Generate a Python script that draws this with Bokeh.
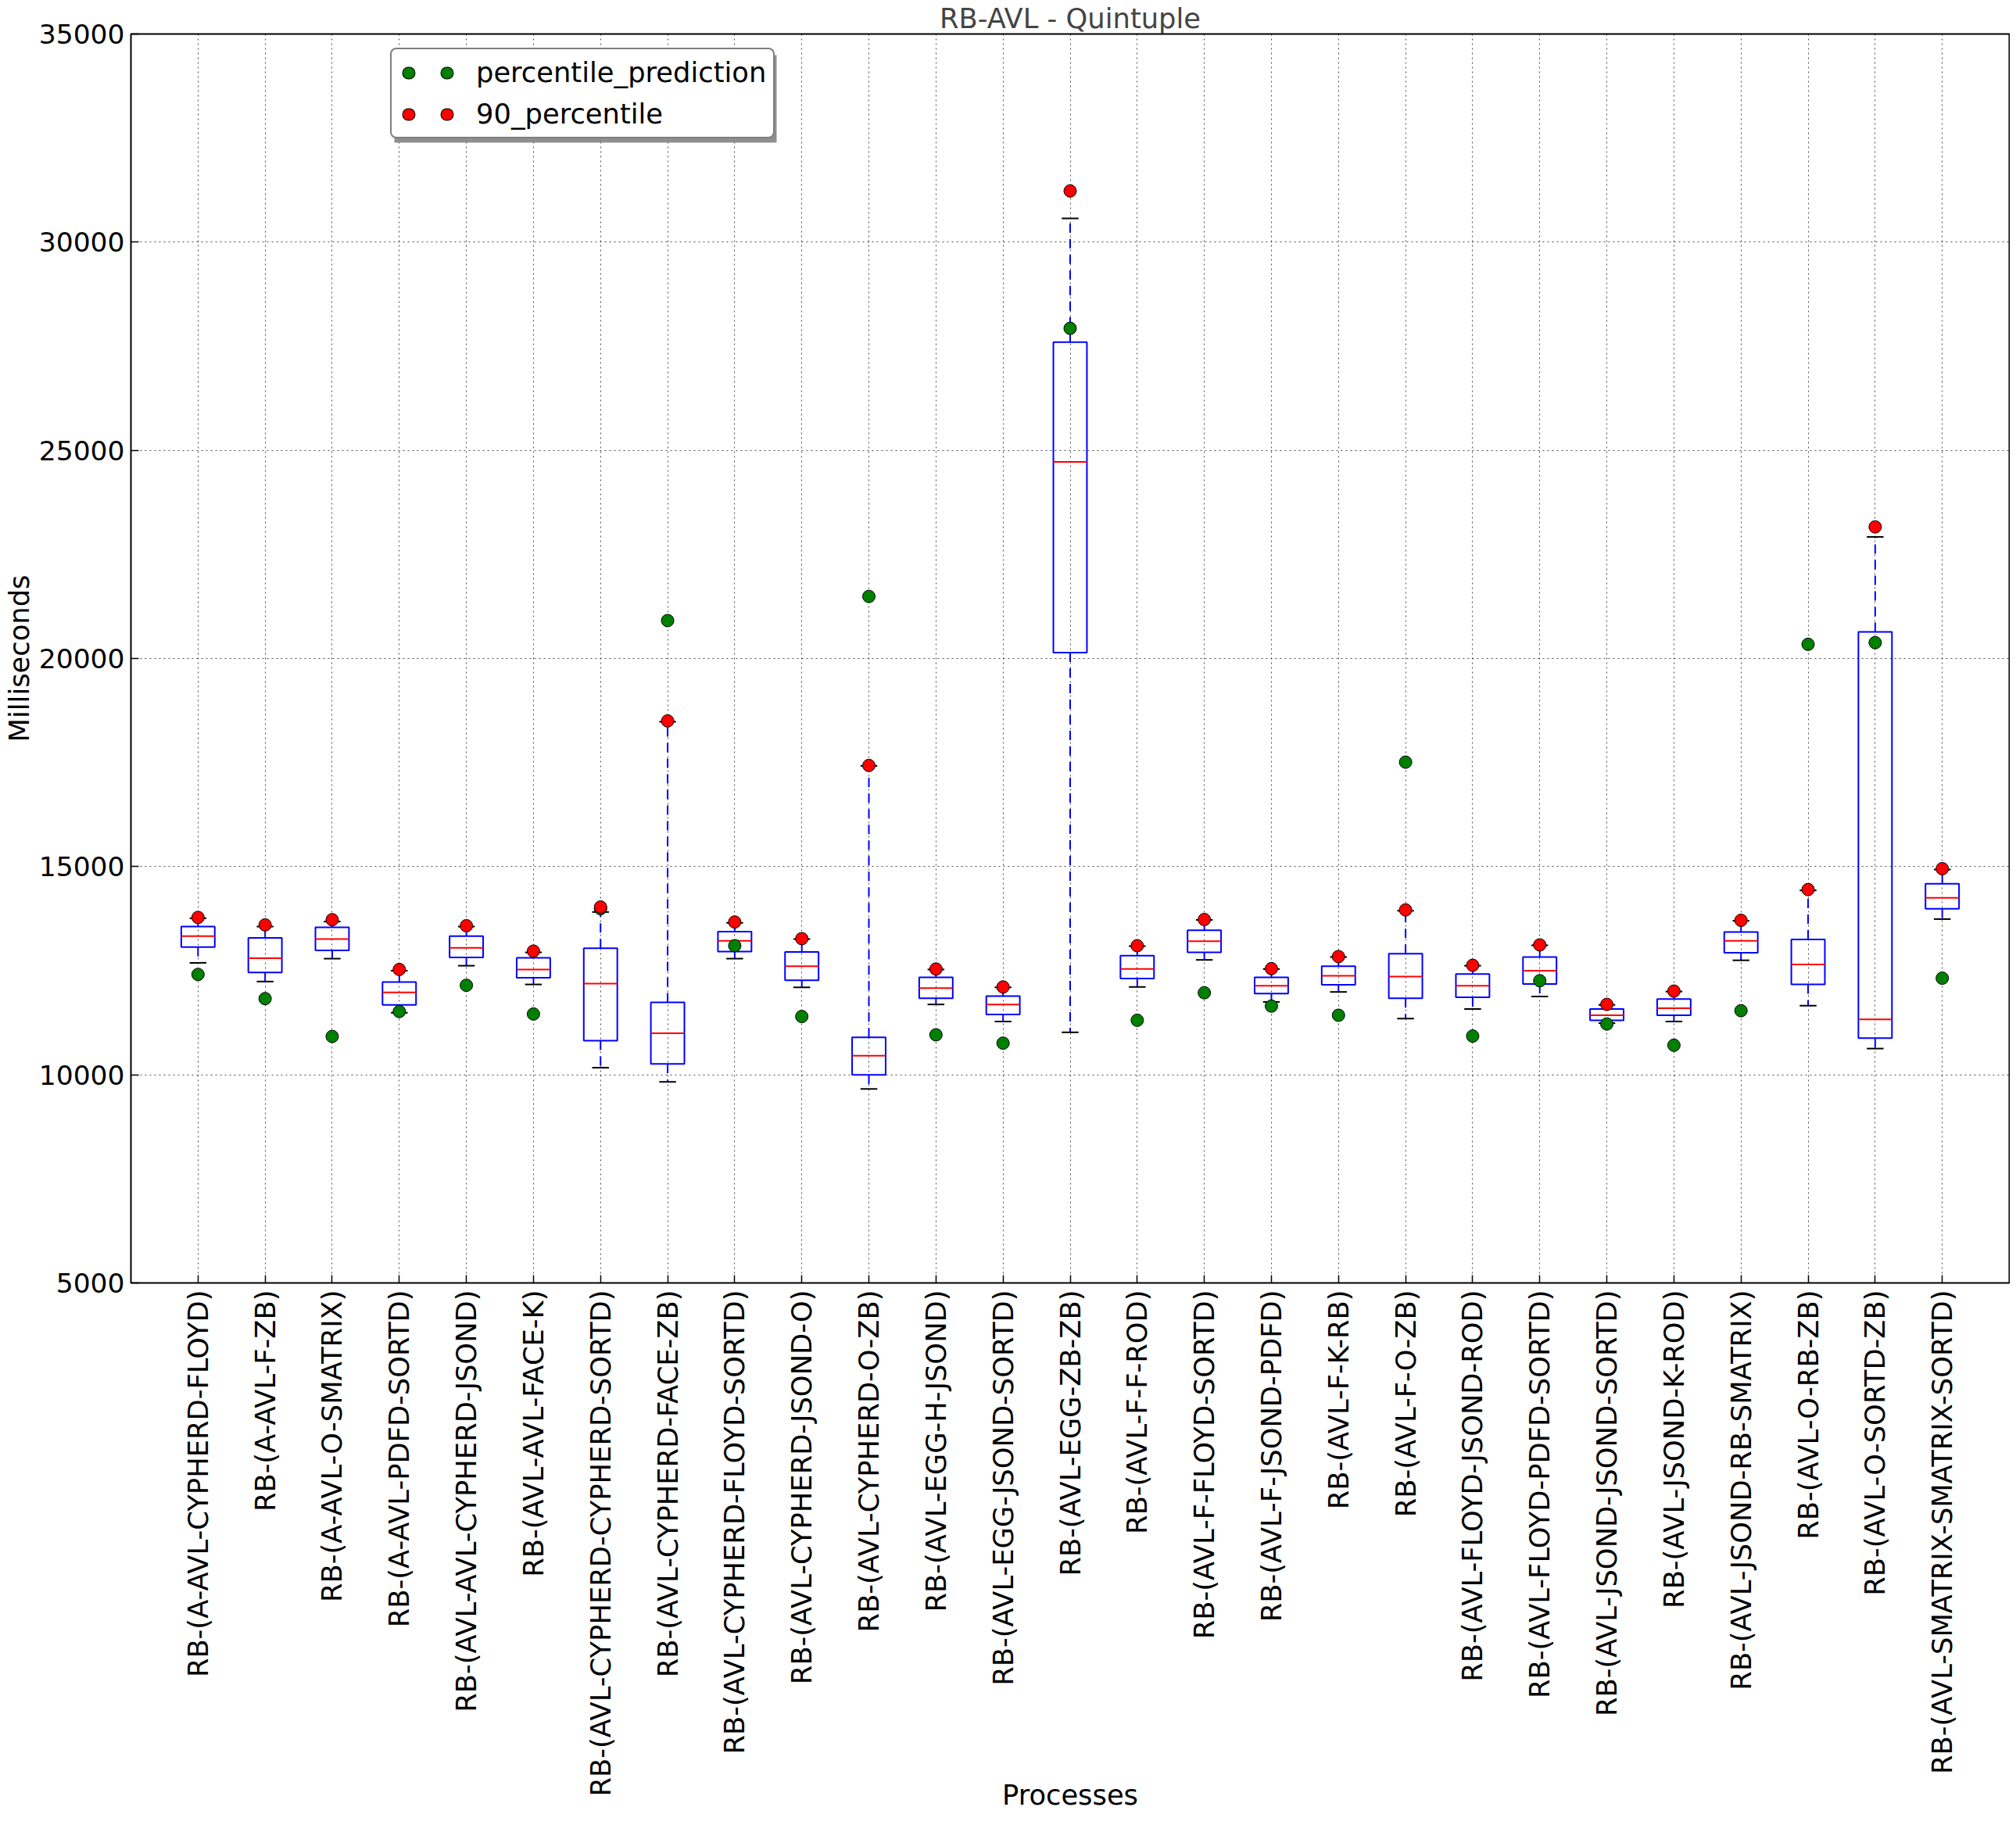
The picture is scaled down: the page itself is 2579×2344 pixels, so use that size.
from bokeh.plotting import figure
from bokeh.models import ColumnDataSource, FixedTicker, Legend, LegendItem, Range1d, BoxAnnotation
from bokeh.embed import file_html
from bokeh.resources import INLINE
import math

# ---------------- data ----------------
names = [
    "RB-(A-AVL-CYPHERD-FLOYD)",
    "RB-(A-AVL-F-ZB)",
    "RB-(A-AVL-O-SMATRIX)",
    "RB-(A-AVL-PDFD-SORTD)",
    "RB-(AVL-AVL-CYPHERD-JSOND)",
    "RB-(AVL-AVL-FACE-K)",
    "RB-(AVL-CYPHERD-CYPHERD-SORTD)",
    "RB-(AVL-CYPHERD-FACE-ZB)",
    "RB-(AVL-CYPHERD-FLOYD-SORTD)",
    "RB-(AVL-CYPHERD-JSOND-O)",
    "RB-(AVL-CYPHERD-O-ZB)",
    "RB-(AVL-EGG-H-JSOND)",
    "RB-(AVL-EGG-JSOND-SORTD)",
    "RB-(AVL-EGG-ZB-ZB)",
    "RB-(AVL-F-F-ROD)",
    "RB-(AVL-F-FLOYD-SORTD)",
    "RB-(AVL-F-JSOND-PDFD)",
    "RB-(AVL-F-K-RB)",
    "RB-(AVL-F-O-ZB)",
    "RB-(AVL-FLOYD-JSOND-ROD)",
    "RB-(AVL-FLOYD-PDFD-SORTD)",
    "RB-(AVL-JSOND-JSOND-SORTD)",
    "RB-(AVL-JSOND-K-ROD)",
    "RB-(AVL-JSOND-RB-SMATRIX)",
    "RB-(AVL-O-RB-ZB)",
    "RB-(AVL-O-SORTD-ZB)",
    "RB-(AVL-SMATRIX-SMATRIX-SORTD)",
]

whisker_low = [12690, 12240, 12790, 11490, 12620, 12170, 10170, 9830, 12790, 12100,
               9660, 11690, 11280, 11020, 12110, 12760, 11750, 11990, 11350, 11580,
               11880, 11240, 11280, 12750, 11660, 10630, 13740]
q1 = [13070, 12460, 12990, 11680, 12820, 12330, 10820, 10260, 12960, 12270,
      10000, 11840, 11450, 20140, 12310, 12940, 11950, 12160, 11840, 11860,
      12180, 11310, 11430, 12930, 12170, 10880, 13990]
median = [13330, 12800, 13260, 11980, 13050, 12530, 12190, 11000, 13220, 12610,
          10460, 12080, 11690, 24720, 12540, 13210, 12140, 12380, 12360, 12140,
          12500, 11430, 11600, 13220, 12650, 11330, 14250]
q3 = [13560, 13290, 13540, 12230, 13330, 12810, 13040, 11740, 13440, 12950,
      10900, 12340, 11890, 27600, 12860, 13470, 12340, 12610, 12910, 12420,
      12830, 11580, 11820, 13430, 13250, 20640, 14590]
whisker_high = [13760, 13560, 13680, 12500, 13560, 12940, 13910, 18480, 13650, 13260,
                17420, 12530, 12100, 30570, 13090, 13720, 12540, 12830, 13940, 12620,
                13110, 11680, 12000, 13700, 14430, 22920, 14930]
percentile_prediction = [12410, 11830, 10920, 11520, 12150, 11460, 13990, 20910, 13100, 11400,
                         21490, 10960, 10760, 27930, 11310, 11970, 11650, 11430, 17510, 10930,
                         12260, 11220, 10710, 11540, 20340, 20380, 12320]
percentile_90 = [13780, 13600, 13725, 12530, 13580, 12970, 14030, 18500, 13670, 13270,
                 17430, 12540, 12110, 31230, 13100, 13730, 12550, 12840, 13960, 12630,
                 13120, 11690, 12010, 13710, 14450, 23160, 14950]

y_ticks = [5000, 10000, 15000, 20000, 25000, 30000, 35000]

# ---------------- derived ----------------
pos = list(range(1, len(names) + 1))
box_w = 0.5
cap_w = 0.25
src = ColumnDataSource(dict(
    x=pos,
    lo=whisker_low, q1=q1, med=median, q3=q3, hi=whisker_high,
    pred=percentile_prediction, p90=percentile_90,
    mx0=[x - box_w / 2 for x in pos], mx1=[x + box_w / 2 for x in pos],
    cx0=[x - cap_w / 2 for x in pos], cx1=[x + cap_w / 2 for x in pos],
))

FONT = "DejaVu Sans"
FS = "35.3px"
BORDER_L, BORDER_T, FRAME_W, FRAME_H = 159, 36, 2403, 1598
X0, X1, Y0, Y1 = 0, len(names) + 1, 5000, 35000

p = figure(frame_width=FRAME_W, frame_height=FRAME_H, output_backend="svg", toolbar_location=None,
           x_range=Range1d(X0, X1), y_range=Range1d(Y0, Y1),
           min_border_left=BORDER_L, min_border_right=1, min_border_top=BORDER_T, min_border_bottom=686)
p.background_fill_color = "white"
p.border_fill_color = "white"
p.outline_line_color = "black"
p.outline_line_width = 2
p.outline_line_alpha = 1

# title
p.title.text = "RB-AVL - Quintuple"
p.title.align = "center"
p.title.text_font = FONT
p.title.text_font_size = FS
p.title.text_font_style = "normal"
p.title.standoff = 0

# axes
p.xaxis.ticker = FixedTicker(ticks=pos)
p.xaxis.major_label_overrides = {x: n for x, n in zip(pos, names)}
p.xaxis.major_label_orientation = math.pi / 2
p.yaxis.ticker = FixedTicker(ticks=y_ticks)
for ax in (p.xaxis, p.yaxis):
    ax.axis_line_color = None
    ax.major_tick_in = 10
    ax.major_tick_out = 0
    ax.major_tick_line_color = "black"
    ax.major_tick_line_width = 1.5
    ax.minor_tick_line_color = None
    ax.major_label_text_font = FONT
    ax.major_label_text_font_size = FS
    ax.major_label_text_color = "black"
    ax.axis_label_text_font = FONT
    ax.axis_label_text_font_size = FS
    ax.axis_label_text_font_style = "normal"
    ax.axis_label_text_color = "black"
p.yaxis.major_label_text_font_size = "34.5px"
p.xaxis.axis_label = "Processes"
p.yaxis.axis_label = "Milliseconds"
p.xaxis.major_label_standoff = 9
p.xaxis.axis_label_standoff = -26
p.yaxis.major_label_standoff = 8
p.yaxis.axis_label_standoff = 2

# grid
for g in (p.xgrid, p.ygrid):
    g.grid_line_color = "black"
    g.grid_line_alpha = 0.7
    g.grid_line_width = 1
    g.grid_line_dash = "2 4"

# boxplot pieces
p.segment(x0="x", y0="q3", x1="x", y1="hi", source=src, line_color="blue", line_width=2, line_dash="12 8")
p.segment(x0="x", y0="q1", x1="x", y1="lo", source=src, line_color="blue", line_width=2, line_dash="12 8")
p.segment(x0="cx0", y0="hi", x1="cx1", y1="hi", source=src, line_color="black", line_width=2)
p.segment(x0="cx0", y0="lo", x1="cx1", y1="lo", source=src, line_color="black", line_width=2)
p.vbar(x="x", width=box_w, bottom="q1", top="q3", source=src, fill_color=None,
       line_color="blue", line_width=2)
p.segment(x0="mx0", y0="med", x1="mx1", y1="med", source=src, line_color="red", line_width=2)

# points
p.scatter(x="x", y="pred", source=src, size=16, fill_color="#008000", line_color="black", line_width=1)
p.scatter(x="x", y="p90", source=src, size=16, fill_color="#ff0000", line_color="black", line_width=1)

# legend proxies (two dots per entry, like matplotlib numpoints=2); NaN data draws nothing in the plot
nan = float("nan")
leg_src = ColumnDataSource(dict(x=[nan], y=[nan]))
def dots(color, width):
    return p.line(x="x", y="y", source=leg_src, line_color=color, line_width=width,
                  line_dash="1 48", line_dash_offset=37, line_cap="round")
g_edge = dots("black", 16)
g_fill = dots("#008000", 14)
r_edge = dots("black", 16)
r_fill = dots("#ff0000", 14)

# legend placement (screen px from frame bottom-left) and its drop shadow (converted to data units)
LEG_X, LEG_Y, LEG_W, LEG_H, SH = 332, 1464, 489, 112, 5
def sx(px):
    return X0 + px * (X1 - X0) / FRAME_W
def sy(py):
    return Y0 + py * (Y1 - Y0) / FRAME_H
shadow = BoxAnnotation(left=sx(LEG_X + SH), right=sx(LEG_X + LEG_W + SH),
                       bottom=sy(LEG_Y - SH), top=sy(LEG_Y + LEG_H - SH),
                       fill_color="#606060", fill_alpha=0.7, line_color=None)
p.add_layout(shadow)

legend = Legend(items=[
    LegendItem(label="percentile_prediction", renderers=[g_edge, g_fill]),
    LegendItem(label="90_percentile", renderers=[r_edge, r_fill]),
], location=(LEG_X, LEG_Y))
legend.label_text_font = FONT
legend.label_text_font_size = FS
legend.label_text_color = "black"
legend.label_height = 40
legend.glyph_height = 40
legend.glyph_width = 80
legend.label_standoff = 19
legend.spacing = 12
legend.padding = 9
legend.margin = 0
if "border_radius" in legend.properties():
    legend.border_radius = 8
legend.border_line_color = "black"
legend.border_line_width = 2
legend.background_fill_color = "white"
legend.background_fill_alpha = 1
p.add_layout(legend, "center")

open("out.html", "w").write(file_html(p, INLINE))
